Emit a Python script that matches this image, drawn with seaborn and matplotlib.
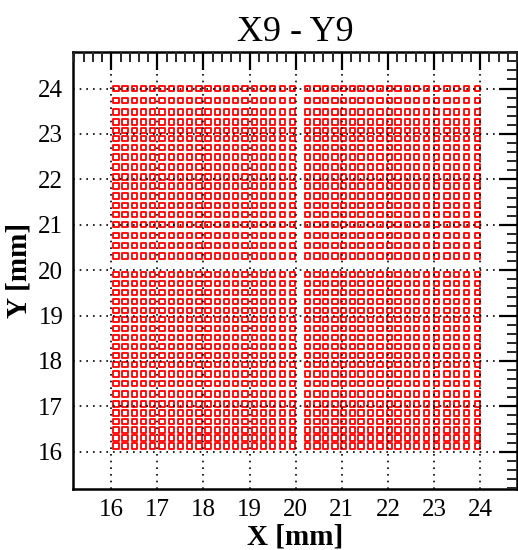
import matplotlib
matplotlib.use("Agg")
import matplotlib.pyplot as plt
import seaborn as sns
import pandas as pd
from matplotlib.ticker import MultipleLocator

# ---- data ----
title = "X9 - Y9"
x_label = "X [mm]"
y_label = "Y [mm]"
tick_values = [16, 17, 18, 19, 20, 21, 22, 23, 24]

x_cols_left = [16.10, 16.30, 16.50, 16.70, 16.90, 17.10, 17.30, 17.50, 17.70, 17.90,
               18.10, 18.30, 18.50, 18.70, 18.90, 19.10, 19.30, 19.50, 19.71, 19.93]
x_cols_right = [20.26, 20.46, 20.65, 20.85, 21.04, 21.23, 21.42, 21.62, 21.83, 22.03,
                22.22, 22.43, 22.62, 22.84, 23.06, 23.28, 23.49, 23.71, 23.95]
y_rows_bottom = [16.13, 16.30, 16.48, 16.66, 16.85, 17.05, 17.27, 17.50, 17.71, 17.92,
                 18.12, 18.32, 18.52, 18.72, 18.91, 19.11, 19.31, 19.51, 19.71, 19.91]
y_rows_top = [20.31, 20.54, 20.77, 21.00, 21.22, 21.43, 21.63, 21.85, 22.05, 22.27,
              22.49, 22.70, 22.90, 23.08, 23.26, 23.48, 23.74, 24.00]

quadrants = [(x_cols_left, y_rows_bottom), (x_cols_left, y_rows_top),
             (x_cols_right, y_rows_bottom), (x_cols_right, y_rows_top)]
rows = []
for xs, ys in quadrants:
    for xv in xs:
        for yv in ys:
            rows.append((xv, yv))
df = pd.DataFrame(rows, columns=["x", "y"])

# ---- style ----
sns.set_theme(style="white")
plt.rcParams["font.family"] = ["Liberation Serif", "DejaVu Serif"]
plt.rcParams["text.color"] = "black"
plt.rcParams["axes.labelcolor"] = "black"

fig = plt.figure(figsize=(5.18, 5.50), dpi=100)
ax = fig.add_axes([0.141, 0.111, 0.857, 0.794])

sns.scatterplot(data=df, x="x", y="y", ax=ax, marker="s", s=15,
                facecolor="none", edgecolor="red", linewidth=1.3, legend=False, zorder=2)

ax.set_xlim(15.17, 24.8)
ax.set_ylim(15.18, 24.8)
ax.xaxis.set_minor_locator(MultipleLocator(0.2))
ax.yaxis.set_minor_locator(MultipleLocator(0.2))
ax.set_xticks(tick_values)
ax.set_yticks(tick_values)
ax.set_xticklabels([str(t) for t in tick_values])
ax.set_yticklabels([str(t) for t in tick_values])

ax.set_axisbelow(False)
ax.grid(True, which="major", color="black", linestyle=(0, (1, 3)), linewidth=1.2, zorder=3)

ax.tick_params(which="major", direction="in", length=13, width=1.6,
               top=True, right=True, labelsize=18, pad=7, colors="black")
ax.tick_params(which="minor", direction="in", length=7, width=1.4,
               top=True, right=True)
for sp in ax.spines.values():
    sp.set_color("black")
    sp.set_linewidth(1.8)

ax.set_xlabel(x_label, fontsize=21, fontweight="bold", labelpad=2, color="black")
ax.set_ylabel(y_label, fontsize=21, fontweight="bold", labelpad=4, color="black")
ax.set_title(title, fontsize=26, pad=8, color="black")

fig.savefig("out.png", dpi=100)
